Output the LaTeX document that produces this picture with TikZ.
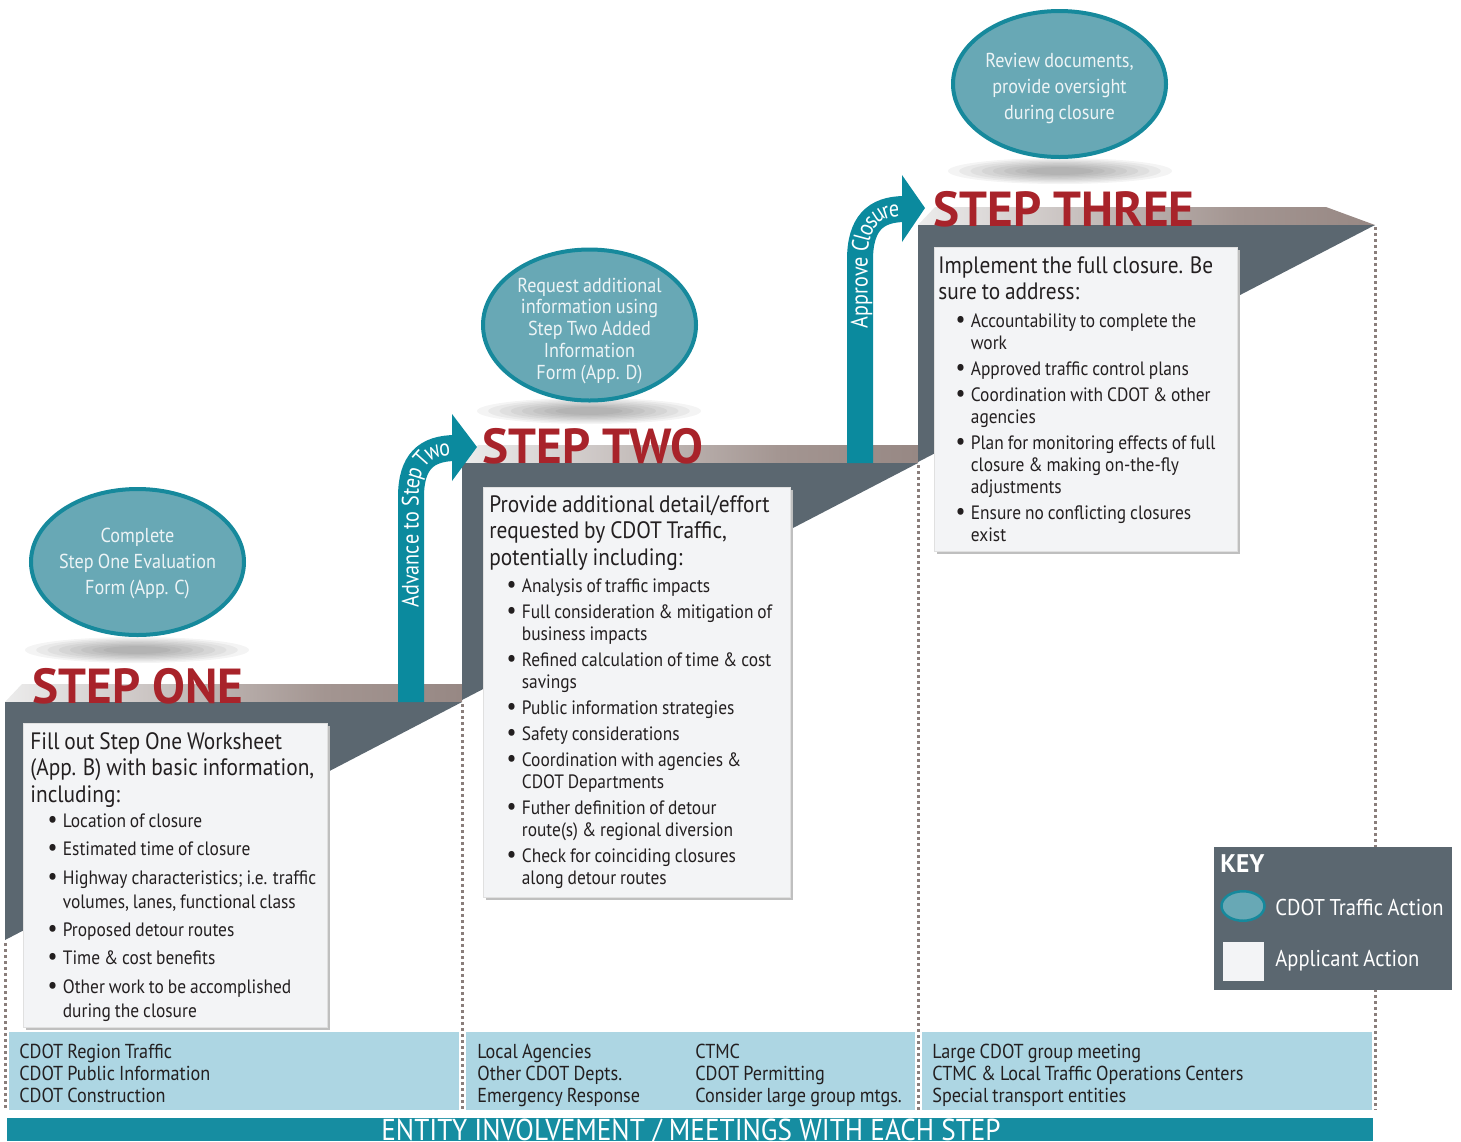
\documentclass[tikz,border=0pt]{standalone}
\usepackage{fontspec}
\setmainfont[FakeStretch=0.9,WordSpace=0.85]{PT Sans}
\newfontfamily\headfont{PT Sans}
\newfontfamily\arrowfont[FakeStretch=0.85]{PT Sans}
\newfontfamily\barfont[FakeStretch=0.9]{PT Sans}
\usetikzlibrary{shapes.geometric}
\usetikzlibrary{decorations.text}

\definecolor{slate}{HTML}{5B6770}
\definecolor{stepred}{HTML}{A8232A}
\definecolor{arrowteal}{HTML}{0B8A9E}
\definecolor{ovalfill}{HTML}{68A8B5}
\definecolor{ovaledge}{HTML}{16899C}
\definecolor{ovaltext}{HTML}{EDF4F6}
\definecolor{bandblue}{HTML}{ADD6E3}
\definecolor{barteal}{HTML}{168DA1}
\definecolor{boxfill}{HTML}{F3F4F6}
\definecolor{dotbrown}{HTML}{8A7E7B}
\definecolor{facebrown}{HTML}{83726E}
\definecolor{facelight}{HTML}{A39591}
\definecolor{inktext}{HTML}{231F20}

\pgfdeclarehorizontalshading{stepface}{100bp}{color(0bp)=(white); color(25bp)=(white!85!gray); color(60bp)=(facelight); color(100bp)=(facebrown)}

% bullet list used in the three action boxes
\newenvironment{stepitems}[3]{\par\fontsize{11}{#2}\selectfont
  \begin{list}{{\fontsize{14}{14}\selectfont\textbullet}}{\setlength{\leftmargin}{18.5pt}\setlength{\labelsep}{3pt}%
    \setlength{\labelwidth}{6pt}\setlength{\itemsep}{#1}\setlength{\parsep}{0pt}%
    \setlength{\topsep}{#3}\setlength{\partopsep}{0pt}\setlength{\itemindent}{0pt}}}
  {\end{list}}

\tikzset{
  topface/.style={shading=stepface},
  dotline/.style={dotbrown, line width=0.6mm, dash pattern=on 0.6mm off 0.6mm},
  boxshadow/.style={fill=black!25},
  actionbox/.style={fill=boxfill, draw=black!12, line width=0.15mm},
  boxtext/.style={anchor=north west, inner sep=0pt, text width=62mm, align=flush left,
    text=inktext, font=\fontsize{13.5}{15.1}\selectfont},
  cdotoval/.style={ellipse, fill=ovalfill, draw=ovaledge, line width=0.8mm,
    inner sep=0pt, minimum width=42.6mm, minimum height=29.2mm},
  ovaltext/.style={align=center, inner sep=0pt, text=ovaltext, font=\fontsize{11.5}{14.8}\selectfont},
  stepname/.style={anchor=base west, inner sep=0pt, text=stepred,
    font=\headfont\bfseries\fontsize{28}{28}\selectfont},
  advarrow/.style={arrowteal, line width=5.2mm},
  bandtext/.style={anchor=north west, inner sep=0pt, align=left, text=inktext,
    font=\fontsize{11.5}{12.5}\selectfont},
  keytext/.style={anchor=west, inner sep=0pt, text=white, font=\fontsize{13}{13}\selectfont},
  keysquare/.style={fill=boxfill, minimum width=8.2mm, minimum height=7.8mm, inner sep=0pt}
}

\begin{document}
\begin{tikzpicture}[x=0.2mm,y=-0.2mm]
  \useasboundingbox (0,0) rectangle (1461,1141);

  % top faces of the steps
  \shade[topface] (5,702) -- (22,684) -- (462,684) -- (462,702) -- cycle;
  \shade[topface] (462,463) -- (478,445) -- (918,445) -- (918,463) -- cycle;
  \shade[topface] (918,225) -- (935,207) -- (1326,207) -- (1375,225) -- cycle;

  % front faces
  \fill[slate] (5,702) -- (462,702) -- (5,940) -- cycle;
  \fill[slate] (462,463) -- (918,463) -- (462,700) -- cycle;
  \fill[slate] (918,225) -- (1375,225) -- (918,462) -- cycle;

  % dotted separators
  \draw[dotline] (5,943) -- (5,1110);
  \draw[dotline] (462,704) -- (462,1110);
  \draw[dotline] (918,465) -- (918,1110);
  \draw[dotline] (1375,227) -- (1375,1110);

  % entity band
  \fill[bandblue] (9,1032) rectangle (459,1110);
  \fill[bandblue] (466,1032) rectangle (915,1110);
  \fill[bandblue] (922,1032) rectangle (1372,1110);
  \fill[barteal] (7,1118) rectangle (1373,1141);

  \node[bandtext] (entone) at (19,1043.5) {CDOT Region Traffic\\CDOT Public Information\\CDOT Construction};
  \node[bandtext] (enttwoa) at (477,1043.5) {Local Agencies\\Other CDOT Depts.\\Emergency Response};
  \node[bandtext] (enttwob) at (695,1043.5) {CTMC\\CDOT Permitting\\Consider large group mtgs.};
  \node[bandtext] (entthree) at (932,1043.5) {Large CDOT group meeting\\CTMC \& Local Traffic Operations Centers\\Special transport entities};
  \node[anchor=base, inner sep=0pt, text=white, font=\barfont\fontsize{17.2}{17.2}\selectfont] (entbar) at (691,1140.5) {ENTITY INVOLVEMENT / MEETINGS WITH EACH STEP};

  % applicant boxes
  \fill[boxshadow] (26,726) rectangle (330,1030);
  \filldraw[actionbox] (23,723) rectangle (327,1027);
  \node[boxtext] (taskone) at (30,732) {Fill out Step One Worksheet\newline (App. B) with basic information,\newline including:
    \begin{stepitems}{2pt}{14pt}{0.5pt}
      \item Location of closure
      \item Estimated time of closure
      \item Highway characteristics; i.e. traffic\newline volumes, lanes, functional class
      \item Proposed detour routes
      \item Time \& cost benefits
      \item Other work to be accomplished\newline during the closure
    \end{stepitems}};

  \fill[boxshadow] (486,490) rectangle (793,900);
  \filldraw[actionbox] (483,487) rectangle (790,897);
  \node[boxtext] (tasktwo) at (489,495) {Provide additional detail/effort\newline requested by CDOT Traffic,\newline potentially including:
    \begin{stepitems}{2.35pt}{12.5pt}{2.7pt}
      \item Analysis of traffic impacts
      \item Full consideration \& mitigation of\newline business impacts
      \item Refined calculation of time \& cost\newline savings
      \item Public information strategies
      \item Safety considerations
      \item Coordination with agencies \&\newline CDOT Departments
      \item Futher definition of detour\newline route(s) \& regional diversion
      \item Check for coinciding closures\newline along detour routes
    \end{stepitems}};

  \fill[boxshadow] (937,250) rectangle (1240,554);
  \filldraw[actionbox] (934,247) rectangle (1237,551);
  \node[boxtext] (taskthree) at (938,256) {Implement the full closure. Be\newline sure to address:
    \begin{stepitems}{2.3pt}{12.5pt}{3.3pt}
      \item Accountability to complete the\newline work
      \item Approved traffic control plans
      \item Coordination with CDOT \& other\newline agencies
      \item Plan for monitoring effects of full\newline closure \& making on-the-fly\newline adjustments
      \item Ensure no conflicting closures\newline exist
    \end{stepitems}};

  % soft shadows under the ovals
  \foreach \cx/\cy in {137/650, 589/411, 1060/171}
    \foreach \s in {1.0,0.9,...,0.25}
      \fill[black, opacity=0.045] (\cx,\cy) ellipse [x radius=112*\s, y radius=13*\s];

  % arrows between the steps
  \draw[advarrow] (411,702) -- (411,497) .. controls (411,462) and (426,448) .. (456,448);
  \fill[arrowteal] (452,414) -- (477,447) -- (452,481) -- cycle;
  \path[decorate, decoration={text along path, text align=right, raise=-4.3pt,
    text={|\arrowfont\fontsize{13.5}{16}\selectfont\color{white}|Advance to Step Two}}]
    (411,690) -- (411,497) .. controls (411,462) and (426,448) .. (450,448);

  \draw[advarrow] (860,463) -- (860,260) .. controls (860,224) and (875,209) .. (905,209);
  \fill[arrowteal] (902,175) -- (925,208) -- (902,242) -- cycle;
  \path[decorate, decoration={text along path, text align=right, raise=-4.3pt,
    text={|\arrowfont\fontsize{13.5}{16}\selectfont\color{white}|Approve Closure}}]
    (860,450) -- (860,260) .. controls (860,224) and (875,209) .. (899,209);

  % CDOT ovals
  \node[cdotoval] (evalform) at (137.5,562) {};
  \node[ovaltext] (evaltext) at (137.5,564) {Complete\\Step One Evaluation\\Form (App. C)};
  \node[cdotoval, minimum height=30.2mm] (addinfo) at (589.5,325) {};
  \node[ovaltext, font=\fontsize{11.5}{12.5}\selectfont] (addinfotext) at (589.5,331) {Request additional\\information using\\Step Two Added\\Information\\Form (App. D)};
  \node[cdotoval] (oversight) at (1059.5,84) {};
  \node[ovaltext] (oversighttext) at (1059.5,88) {Review documents,\\provide oversight\\during closure};

  % step names
  \node[stepname] (stepone) at (32,703) {STEP ONE};
  \node[stepname] (steptwo) at (482,463) {STEP TWO};
  \node[stepname] (stepthree) at (933,226) {STEP THREE};

  % key
  \fill[slate] (1214,847) rectangle (1452,990);
  \node[anchor=west, inner sep=0pt, text=white, font=\headfont\bfseries\fontsize{14.5}{14.5}\selectfont] (keytitle) at (1220,864) {KEY};
  \node[cdotoval, minimum width=8.6mm, minimum height=5.9mm, line width=0.5mm] (keyoval) at (1243,906) {};
  \node[keysquare] (keybox) at (1243.5,961.5) {};
  \node[keytext] (keycdot) at (1275,907) {CDOT Traffic Action};
  \node[keytext] (keyapplicant) at (1275,961) {Applicant Action};
\end{tikzpicture}
\end{document}
